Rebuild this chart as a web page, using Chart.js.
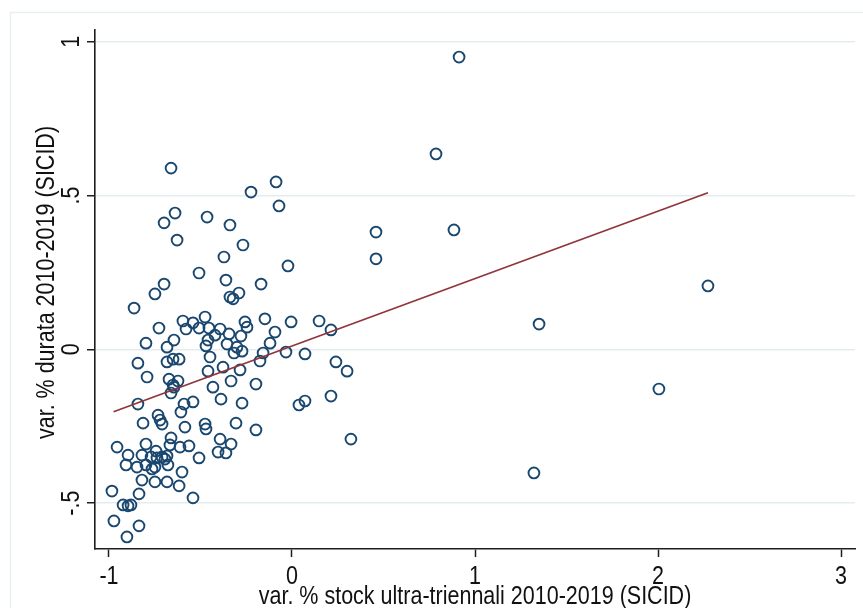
<!DOCTYPE html>
<html>
<head>
<meta charset="utf-8">
<script src="https://cdn.jsdelivr.net/npm/chart.js@4/dist/chart.umd.min.js"></script>
<style>
  html, body { margin: 0; padding: 0; background: #ffffff; }
  #wrap { width: 863px; height: 608px; position: relative; }
</style>
</head>
<body>
<div id="wrap"><canvas id="c" width="863" height="608"></canvas></div>
<script>
// Per-area change 2010-2019: stock of cases older than three years (x) vs. case duration (y)
const stockChange = [
  0.913, 0.787, 0.885, 0.459, 0.459, 2.273, 1.350, 2.005, 1.322, 0.322,
  -0.661, -0.087, -0.224, -0.071, -0.639, -0.699, -0.464, -0.339, -0.628, -0.268,
  -0.372, -0.022, -0.508, -0.361, -0.169, -0.699, -0.749, -0.290, -0.339, -0.322,
  -0.863, -0.727, -0.596, -0.541, -0.579, -0.645, -0.798, -0.683, -0.650, -0.617,
  -0.683, -0.842, -0.792, -0.672, -0.623, -0.650, -0.508, -0.475, -0.148, -0.005,
  -0.257, -0.246, -0.393, -0.454, -0.344, -0.279, -0.093, -0.421, -0.459, -0.470,
  -0.355, -0.301, -0.273, -0.317, -0.120, -0.158, -0.033, 0.071, -0.175, -0.448,
  -0.377, -0.284, -0.459, -0.333, -0.197, -0.432, 0.148, 0.213, 0.240, 0.301,
  0.213, 0.071, 0.038, -0.842, -0.661, -0.645, -0.590, -0.541, -0.607, -0.732,
  -0.721, -0.710, -0.814, -0.585, -0.475, -0.470, -0.306, -0.197, -0.388, -0.273,
  -0.661, -0.667, -0.798, -0.956, -0.896, -0.820, -0.743, -0.683, -0.612, -0.563,
  -0.770, -0.738, -0.710, -0.694, -0.907, -0.847, -0.798, -0.749, -0.678, -0.508,
  -0.601, -0.820, -0.749, -0.683, -0.617, -0.393, -0.333, -0.404, -0.361, -0.984,
  -0.836, -0.541, -0.923, -0.896, -0.880, -0.973, -0.836, -0.902, -0.765
];
const durationChange = [
  0.950, 0.635, 0.388, 0.381, 0.294, 0.206, 0.082, -0.129, -0.402, -0.292,
  0.589, 0.544, 0.511, 0.466, 0.443, 0.411, 0.430, 0.404, 0.355, 0.339,
  0.300, 0.271, 0.248, 0.225, 0.212, 0.212, 0.180, 0.183, 0.170, 0.164,
  0.134, 0.069, 0.092, 0.086, 0.066, 0.030, 0.020, 0.007, -0.032, -0.032,
  -0.041, -0.045, -0.090, -0.097, -0.103, -0.116, 0.069, 0.105, 0.099, 0.089,
  0.089, 0.072, 0.066, 0.069, 0.050, 0.043, 0.056, 0.046, 0.030, 0.011,
  0.017, 0.007, -0.006, -0.012, 0.020, -0.012, -0.009, -0.015, -0.038, -0.025,
  -0.058, -0.067, -0.071, -0.103, -0.113, -0.123, 0.092, 0.063, -0.041, -0.071,
  -0.152, -0.168, -0.181, -0.178, -0.142, -0.123, -0.178, -0.171, -0.204, -0.214,
  -0.230, -0.243, -0.240, -0.253, -0.243, -0.259, -0.240, -0.262, -0.162, -0.175,
  -0.288, -0.311, -0.308, -0.318, -0.344, -0.344, -0.331, -0.347, -0.318, -0.314,
  -0.350, -0.353, -0.350, -0.357, -0.376, -0.383, -0.376, -0.383, -0.376, -0.353,
  -0.399, -0.425, -0.431, -0.431, -0.444, -0.292, -0.308, -0.334, -0.337, -0.461,
  -0.470, -0.483, -0.506, -0.509, -0.506, -0.558, -0.574, -0.610, -0.389
];

// Linear fit, drawn over the observed x range
const fitStock = [-0.975, 2.273];
const fitDuration = [-0.203, 0.509];

const xTicks = [-1, 0, 1, 2, 3];
const xTickLabels = ['-1', '0', '1', '2', '3'];
const yTicks = [-0.5, 0, 0.5, 1];
const yTickLabels = ['-.5', '0', '.5', '1'];
const xTitle = 'var. % stock ultra-triennali 2010-2019 (SICID)';
const yTitle = 'var. % durata 2010-2019 (SICID)';

const FONT = '"Liberation Sans", Arial, Helvetica, sans-serif';
const FONT_SIZE = 25;
const CONDENSE = 0.86;   // horizontal squeeze to get a narrow face
const TEXT_COLOR = '#111111';
const AXIS_COLOR = '#1e1e1e';
const GRID_COLOR = '#e3edf0';

const points = stockChange.map((x, i) => ({ x: x, y: durationChange[i] }));
const fitLine = fitStock.map((x, i) => ({ x: x, y: fitDuration[i] }));

// Faint outer frame of the graph region
const framePlugin = {
  id: 'frame',
  beforeDraw(chart) {
    const ctx = chart.ctx;
    ctx.save();
    ctx.strokeStyle = '#e8eff2';
    ctx.lineWidth = 1.5;
    ctx.strokeRect(10.5, 12.5, chart.width + 20, chart.height + 20);
    ctx.restore();
  }
};

function drawNarrowText(ctx, text, x, y, angle) {
  ctx.save();
  ctx.translate(x, y);
  ctx.rotate(angle);
  ctx.scale(CONDENSE, 1);
  ctx.fillText(text, 0, 0);
  ctx.restore();
}

// Axis labels and titles in a condensed sans face
const axisTextPlugin = {
  id: 'axisText',
  afterDraw(chart) {
    const ctx = chart.ctx;
    const xs = chart.scales.x;
    const ys = chart.scales.y;
    const area = chart.chartArea;
    ctx.save();
    ctx.font = FONT_SIZE + 'px ' + FONT;
    ctx.fillStyle = TEXT_COLOR;
    ctx.textAlign = 'center';
    ctx.textBaseline = 'alphabetic';

    // x tick labels
    xTicks.forEach((v, i) => {
      drawNarrowText(ctx, xTickLabels[i], xs.getPixelForValue(v), area.bottom + 35, 0);
    });
    // x title
    drawNarrowText(ctx, xTitle, (area.left + area.right) / 2, area.bottom + 55, 0);

    // y tick labels, reading bottom to top
    yTicks.forEach((v, i) => {
      drawNarrowText(ctx, yTickLabels[i], area.left - 16, ys.getPixelForValue(v), -Math.PI / 2);
    });
    // y title
    drawNarrowText(ctx, yTitle, area.left - 41, (area.top + area.bottom) / 2 - 7, -Math.PI / 2);
    ctx.restore();
  }
};

new Chart(document.getElementById('c'), {
  type: 'scatter',
  data: {
    datasets: [
      {
        label: 'fit',
        data: fitLine,
        showLine: true,
        borderColor: '#90353b',
        borderWidth: 1.8,
        pointRadius: 0,
        fill: false,
        order: 0
      },
      {
        label: 'obs',
        data: points,
        pointStyle: 'circle',
        pointRadius: 5.4,
        pointBorderWidth: 1.9,
        borderColor: '#1a476f',
        backgroundColor: 'rgba(0,0,0,0)',
        pointBackgroundColor: 'rgba(0,0,0,0)',
        order: 1
      }
    ]
  },
  options: {
    responsive: false,
    animation: false,
    events: [],
    layout: { padding: { left: 10, right: 8, top: 30, bottom: 0 } },
    plugins: { legend: { display: false }, tooltip: { enabled: false } },
    scales: {
      x: {
        type: 'linear',
        min: -1.0765,
        max: 3.0765,
        afterBuildTicks(scale) { scale.ticks = xTicks.map(v => ({ value: v })); },
        afterFit(scale) { scale.height = 59; },
        ticks: { display: false },
        grid: {
          drawOnChartArea: false,
          drawTicks: true,
          tickLength: 8,
          tickColor: AXIS_COLOR,
          tickWidth: 1.5
        },
        border: { display: true, color: AXIS_COLOR, width: 1.6 },
        title: { display: false }
      },
      y: {
        type: 'linear',
        min: -0.6492,
        max: 1.0380,
        afterBuildTicks(scale) { scale.ticks = yTicks.map(v => ({ value: v })); },
        afterFit(scale) { scale.width = 85; },
        ticks: { display: false },
        grid: {
          drawOnChartArea: true,
          color: GRID_COLOR,
          lineWidth: 1.5,
          drawTicks: true,
          tickLength: 8,
          tickColor: AXIS_COLOR,
          tickWidth: 1.5
        },
        border: { display: true, color: AXIS_COLOR, width: 1.6 },
        title: { display: false }
      }
    }
  },
  plugins: [framePlugin, axisTextPlugin]
});
</script>
</body>
</html>
